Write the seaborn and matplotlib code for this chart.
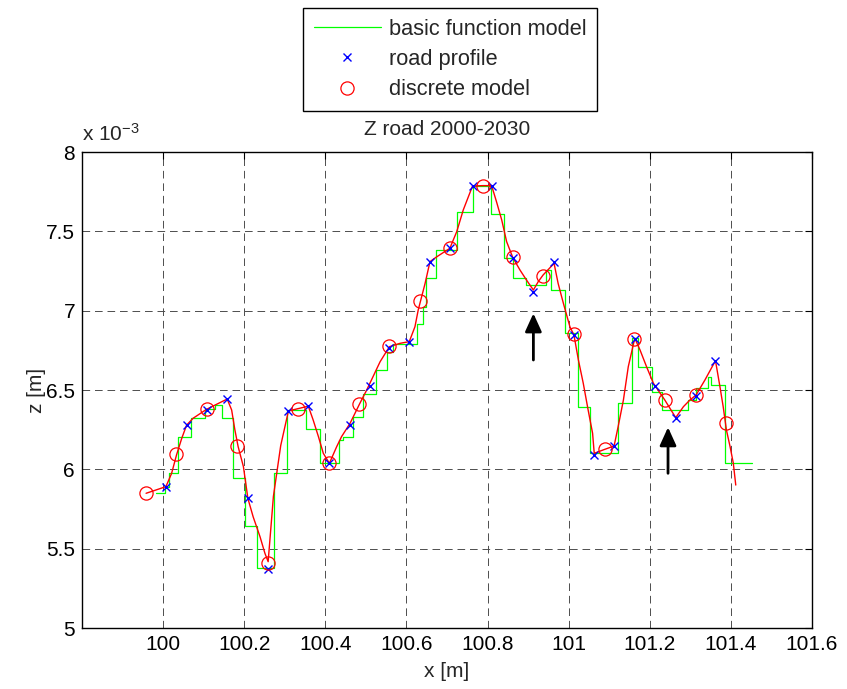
import matplotlib
matplotlib.use("Agg")
import matplotlib.pyplot as plt
import seaborn as sns

# ---------------- data (z values in units of 1e-3 m) ----------------
road_x = [100.007, 100.058, 100.109, 100.158, 100.209, 100.258, 100.309, 100.357,
          100.410, 100.460, 100.510, 100.558, 100.607, 100.658, 100.707, 100.763,
          100.810, 100.862, 100.913, 100.964, 101.013, 101.063, 101.112, 101.163,
          101.213, 101.264, 101.314, 101.362]
road_z = [5.891, 6.279, 6.374, 6.443, 5.817, 5.372, 6.368, 6.401,
          6.038, 6.279, 6.525, 6.763, 6.805, 7.309, 7.393, 7.786,
          7.788, 7.330, 7.120, 7.309, 6.847, 6.090, 6.147, 6.821,
          6.525, 6.326, 6.462, 6.685]

disc_x = [99.958, 100.033, 100.107, 100.183, 100.258, 100.332, 100.408, 100.484,
          100.558, 100.633, 100.707, 100.788, 100.863, 100.937, 101.012, 101.089,
          101.162, 101.237, 101.314, 101.388]
disc_z = [5.849, 6.095, 6.378, 6.145, 5.412, 6.382, 6.038, 6.410,
          6.777, 7.063, 7.393, 7.788, 7.340, 7.218, 6.850, 6.126,
          6.820, 6.437, 6.468, 6.294]

basic_x = [99.982, 100.005, 100.015, 100.037, 100.070, 100.103, 100.128, 100.146,
           100.173, 100.202, 100.231, 100.274, 100.305, 100.352, 100.387, 100.434,
           100.443, 100.469, 100.494, 100.525, 100.551, 100.568, 100.625, 100.641,
           100.648, 100.673, 100.724, 100.765, 100.808, 100.840, 100.863, 100.895,
           100.944, 100.956, 100.990, 101.024, 101.052, 101.122, 101.155, 101.172,
           101.205, 101.229, 101.295, 101.315, 101.344, 101.350, 101.385, 101.451]
basic_z = [5.850, 5.891, 5.975, 6.206, 6.322, 6.378, 6.405, 6.326,
           5.943, 5.645, 5.376, 5.975, 6.374, 6.252, 6.038, 6.185,
           6.206, 6.332, 6.475, 6.626, 6.741, 6.788, 6.916, 7.025,
           7.208, 7.380, 7.624, 7.786, 7.607, 7.330, 7.204, 7.162,
           7.256, 7.130, 6.857, 6.395, 6.105, 6.420, 6.826, 6.647,
           6.490, 6.374, 6.437, 6.511, 6.580, 6.532, 6.038, 6.038]

interp_x = [99.958, 100.007, 100.021, 100.033, 100.046, 100.058, 100.074, 100.107,
            100.128, 100.158, 100.169, 100.177, 100.185, 100.198, 100.209, 100.222,
            100.239, 100.251, 100.259, 100.272, 100.290, 100.309, 100.332, 100.358,
            100.370, 100.383, 100.395, 100.410, 100.428, 100.440, 100.461, 100.484,
            100.502, 100.535, 100.558, 100.584, 100.607, 100.621, 100.629, 100.646,
            100.658, 100.675, 100.707, 100.724, 100.740, 100.763, 100.788, 100.810,
            100.822, 100.835, 100.847, 100.862, 100.880, 100.896, 100.913, 100.925,
            100.937, 100.964, 100.974, 100.987, 101.003, 101.013, 101.024, 101.036,
            101.048, 101.059, 101.063, 101.089, 101.112, 101.122, 101.135, 101.147,
            101.163, 101.176, 101.192, 101.209, 101.237, 101.264, 101.283, 101.299,
            101.314, 101.336, 101.362, 101.373, 101.381, 101.389, 101.398, 101.406,
            101.412]
interp_z = [5.849, 5.891, 5.975, 6.090, 6.196, 6.279, 6.322, 6.378,
            6.405, 6.443, 6.374, 6.248, 6.143, 6.017, 5.817, 5.701,
            5.575, 5.471, 5.418, 5.830, 6.150, 6.368, 6.382, 6.398,
            6.311, 6.206, 6.101, 6.038, 6.143, 6.206, 6.290, 6.410,
            6.500, 6.678, 6.773, 6.794, 6.805, 6.899, 7.004, 7.172,
            7.309, 7.340, 7.393, 7.498, 7.634, 7.786, 7.788, 7.788,
            7.687, 7.571, 7.435, 7.336, 7.256, 7.193, 7.130, 7.183,
            7.225, 7.298, 7.172, 7.046, 6.899, 6.847, 6.689, 6.542,
            6.374, 6.227, 6.101, 6.126, 6.147, 6.269, 6.437, 6.647,
            6.826, 6.752, 6.647, 6.542, 6.437, 6.326, 6.395, 6.437,
            6.468, 6.563, 6.685, 6.521, 6.395, 6.248, 6.143, 6.038,
            5.901]

arrow_x = [100.913, 101.245]
arrow_tail = [6.689, 5.975]
arrow_tip = [6.983, 6.265]

x_ticks = [100, 100.2, 100.4, 100.6, 100.8, 101, 101.2, 101.4, 101.6]
x_labels = ["100", "100.2", "100.4", "100.6", "100.8", "101", "101.2", "101.4", "101.6"]
y_ticks = [5, 5.5, 6, 6.5, 7, 7.5, 8]
y_labels = ["5", "5.5", "6", "6.5", "7", "7.5", "8"]

labels = ["basic function model", "road profile", "discrete model"]
title = "Z road 2000-2030"

# ---------------- style ----------------
sns.set_style("white")
plt.rcParams["font.family"] = ["Liberation Sans", "DejaVu Sans"]
plt.rcParams["mathtext.fontset"] = "custom"
plt.rcParams["mathtext.rm"] = "Liberation Sans"
plt.rcParams["mathtext.it"] = "Liberation Sans"
plt.rcParams["lines.scale_dashes"] = False

FS = 15
W, H = 847, 689
fig = plt.figure(figsize=(W / 100, H / 100), dpi=100)
ax = fig.add_axes([82 / W, 1 - 628 / H, 730 / W, 476 / H])

sns.lineplot(x=basic_x, y=basic_z, ax=ax, color="#00ff00", lw=0.9,
             drawstyle="steps-post", estimator=None, sort=False)
h_green = ax.lines[-1]
sns.lineplot(x=interp_x, y=interp_z, ax=ax, color="#ff0000", lw=1.0,
             estimator=None, sort=False)
sns.lineplot(x=road_x, y=road_z, ax=ax, color="#0000ff", ls="none", marker="x",
             markersize=6, mew=1.0, markeredgecolor="#0000ff",
             estimator=None, sort=False)
h_blue = ax.lines[-1]
sns.lineplot(x=disc_x, y=disc_z, ax=ax, color="#ff0000", ls="none", marker="o",
             markersize=9.5, mew=0.9, markerfacecolor="none",
             markeredgecolor="#ff0000", estimator=None, sort=False)
h_red = ax.lines[-1]

for xa, yt, yh in zip(arrow_x, arrow_tail, arrow_tip):
    ax.annotate("", xy=(xa, yh), xytext=(xa, yt),
                arrowprops=dict(arrowstyle="-|>,head_length=0.55,head_width=0.25",
                                color="k", lw=2.0, shrinkA=0, shrinkB=0,
                                mutation_scale=20))

ax.set_xlim(99.8, 101.6)
ax.set_ylim(5, 8)
ax.set_xticks(x_ticks)
ax.set_xticklabels(x_labels)
ax.set_yticks(y_ticks)
ax.set_yticklabels(y_labels)
ax.tick_params(direction="in", top=True, right=True, length=5, width=0.8,
               labelsize=FS, pad=5, colors="k")
ax.grid(True, ls=(0, (5.5, 3.5)), color="0.3", lw=0.7)
for s in ax.spines.values():
    s.set_visible(True)
    s.set_color("k")
    s.set_linewidth(1.0)

ax.set_xlabel("x [m]", fontsize=FS, labelpad=6)
ax.set_ylabel("z [m]", fontsize=FS, labelpad=0)
ax.set_title(title, fontsize=FS, pad=12)
ax.text(0.0, 1.015, r"x 10$^{-3}$", transform=ax.transAxes, fontsize=FS,
        ha="left", va="bottom")

leg = fig.legend(handles=[h_green, h_blue, h_red], labels=labels,
                 loc="upper center", bbox_to_anchor=(450 / W, 1 - 8 / H),
                 fontsize=15.7, frameon=True, fancybox=False, edgecolor="k",
                 framealpha=1, handlelength=3.1, handletextpad=0.35,
                 borderpad=0.5, labelspacing=0.42, borderaxespad=0)
leg.get_frame().set_linewidth(1.0)

fig.savefig("out.png", dpi=100)
